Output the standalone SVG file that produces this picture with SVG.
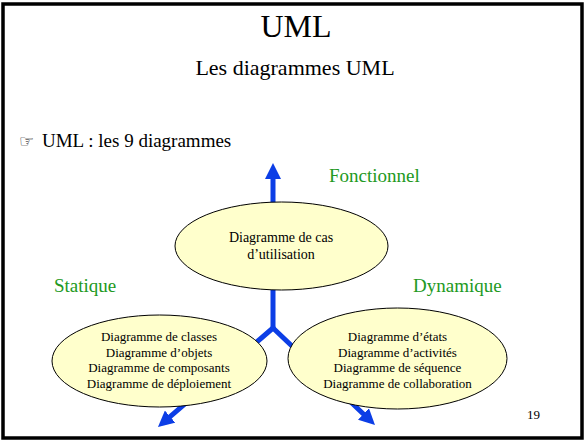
<svg xmlns="http://www.w3.org/2000/svg" width="585" height="441" viewBox="0 0 585 441">
  <style>
    text { font-family: "Liberation Serif", serif; fill: #000; }
    .title { font-size: 32px; text-anchor: middle; }
    .subtitle { font-size: 22px; text-anchor: middle; }
    .bullet { font-size: 19px; }
    .cat { font-size: 19px; fill: #229922; }
    .node-shape { fill: #ffffcc; stroke: #000; stroke-width: 1; }
    .node-text { font-size: 13px; text-anchor: middle; }
    .big { font-size: 14px; }
    .axis { stroke: #0c3ee6; stroke-width: 5; fill: none; stroke-linecap: round; }
  </style>
  <defs>
    <marker id="head" markerUnits="userSpaceOnUse" viewBox="0 0 16 16" markerWidth="16" markerHeight="16" refX="0" refY="8" orient="auto">
      <path d="M0,0 L16,8 L0,16 z" fill="#0c3ee6"/>
    </marker>
  </defs>

  <!-- slide frame -->
  <rect x="3" y="4" width="579" height="434" fill="#fff" stroke="#000" stroke-width="3.5"/>

  <!-- headings -->
  <text class="title" x="296" y="37">UML</text>
  <text class="subtitle" x="295" y="75">Les diagrammes UML</text>
  <text x="19" y="147" font-size="17" style="font-family: 'DejaVu Sans', sans-serif">☞</text>
  <text class="bullet" x="42" y="147">UML : les 9 diagrammes</text>

  <!-- category labels -->
  <text class="cat" x="329" y="182">Fonctionnel</text>
  <text class="cat" x="54" y="292">Statique</text>
  <text class="cat" x="413" y="292">Dynamique</text>

  <!-- three axes from a common junction -->
  <g id="connectors">
    <path class="axis" d="M273,328 L273,179" marker-end="url(#head)"/>
    <path class="axis" d="M273,328 L170.1,416.6" marker-end="url(#head)"/>
    <path class="axis" d="M273,328 L363.4,414" marker-end="url(#head)"/>
  </g>

  <g id="fonctionnel">
    <ellipse class="node-shape" cx="281.5" cy="246" rx="106.5" ry="44"/>
    <text class="node-text big" x="281" y="242">Diagramme de cas</text>
    <text class="node-text big" x="281" y="259">d’utilisation</text>
  </g>

  <g id="statique">
    <ellipse class="node-shape" cx="159.5" cy="361" rx="107.5" ry="46"/>
    <text class="node-text" x="159" y="341">Diagramme de classes</text>
    <text class="node-text" x="159" y="356.5">Diagramme d’objets</text>
    <text class="node-text" x="159" y="372">Diagramme de composants</text>
    <text class="node-text" x="159" y="387.5">Diagramme de déploiement</text>
  </g>

  <g id="dynamique">
    <ellipse class="node-shape" cx="397.5" cy="358.5" rx="109.5" ry="50.5"/>
    <text class="node-text" x="397.5" y="341">Diagramme d’états</text>
    <text class="node-text" x="397.5" y="356.5">Diagramme d’activités</text>
    <text class="node-text" x="397.5" y="372">Diagramme de séquence</text>
    <text class="node-text" x="397.5" y="387.5">Diagramme de collaboration</text>
  </g>

  <!-- page number -->
  <text x="527" y="419" font-size="13">19</text>
</svg>
